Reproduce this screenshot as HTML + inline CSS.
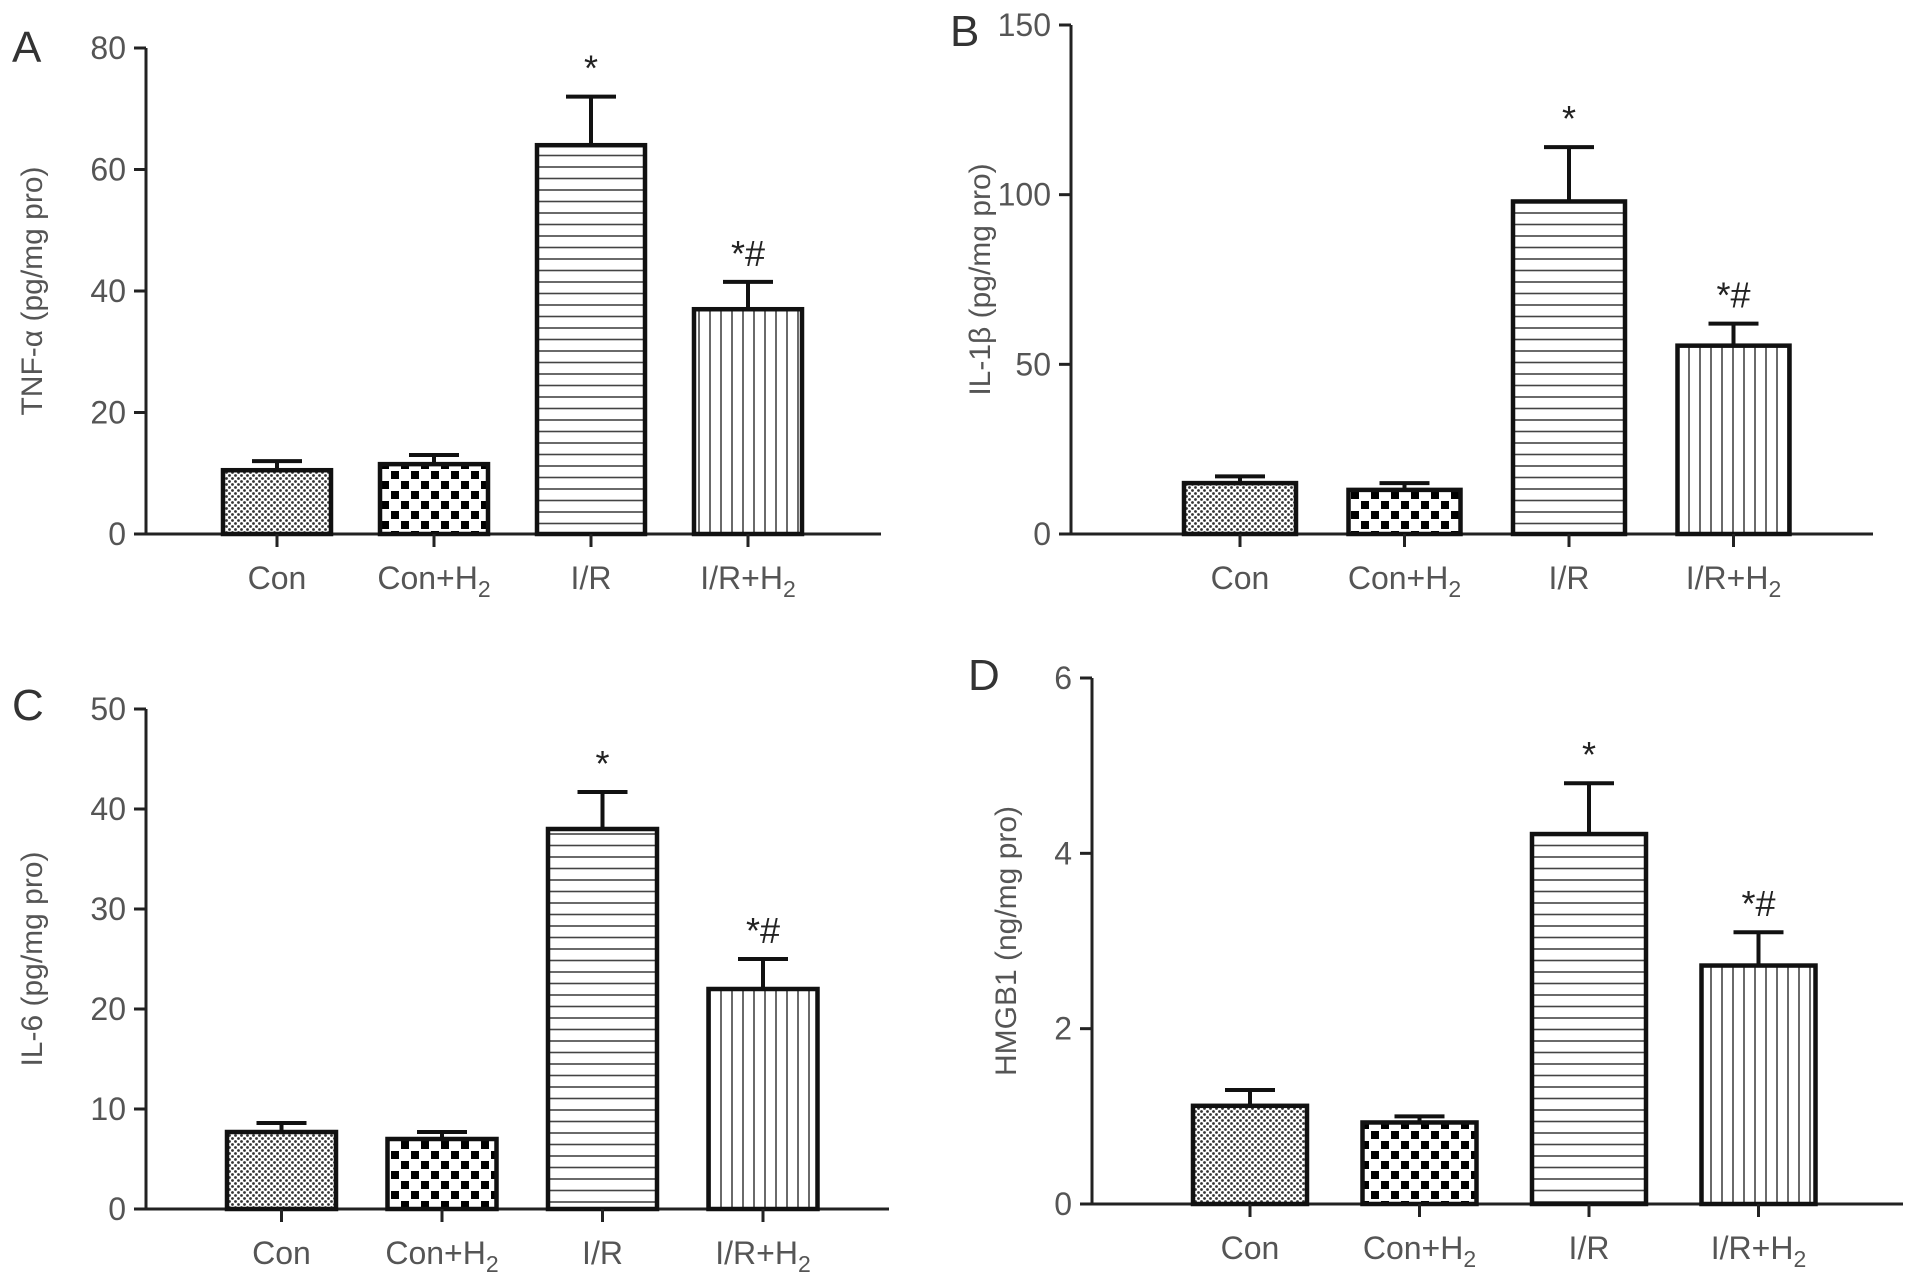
<!DOCTYPE html>
<html><head><meta charset="utf-8"><style>
html,body{margin:0;padding:0;background:#fff;}
svg{display:block;font-family:"Liberation Sans",sans-serif;}
</style></head><body>
<svg id="chart" width="1913" height="1284" viewBox="0 0 1913 1284">
<defs>
<pattern id="pFine" width="6" height="6" patternUnits="userSpaceOnUse">
<rect width="6" height="6" fill="#fff"/><circle cx="1.5" cy="1.5" r="1.4" fill="#333"/><circle cx="4.5" cy="4.5" r="1.4" fill="#333"/>
</pattern>
<pattern id="pCheck" width="20" height="20" patternUnits="userSpaceOnUse">
<rect width="20" height="20" fill="#fff"/><rect x="1" y="1" width="8" height="8" fill="#000"/><rect x="11" y="11" width="8" height="8" fill="#000"/>
</pattern>
<pattern id="pHor" width="10" height="11.5" patternUnits="userSpaceOnUse">
<rect width="10" height="11.5" fill="#fff"/><line x1="0" y1="6" x2="10" y2="6" stroke="#444" stroke-width="1.6"/>
</pattern>
<pattern id="pVer" width="11" height="10" patternUnits="userSpaceOnUse">
<rect width="11" height="10" fill="#fff"/><line x1="6" y1="0" x2="6" y2="10" stroke="#444" stroke-width="1.6"/>
</pattern>
</defs>
</svg>
<script>
const categories = ["Con", "Con+H2", "I/R", "I/R+H2"];
const valuesA = [10.5, 11.5, 64, 37];
const errorsA = [12, 13, 72, 41.5];
const ticksA = [0, 20, 40, 60, 80];
const valuesB = [15, 13, 98, 55.5];
const errorsB = [17, 15, 114, 62];
const ticksB = [0, 50, 100, 150];
const valuesC = [7.7, 7, 38, 22];
const errorsC = [8.6, 7.7, 41.7, 25];
const ticksC = [0, 10, 20, 30, 40, 50];
const valuesD = [1.12, 0.93, 4.22, 2.72];
const errorsD = [1.3, 1.0, 4.8, 3.1];
const ticksD = [0, 2, 4, 6];
const marks = ["", "", "*", "*#"];

const NS = "http://www.w3.org/2000/svg";
const svg = document.getElementById("chart");
const fills = ["url(#pFine)", "url(#pCheck)", "url(#pHor)", "url(#pVer)"];
function mk(tag, attrs, parent, text) {
  const e = document.createElementNS(NS, tag);
  for (const k in attrs) e.setAttribute(k, attrs[k]);
  if (text !== undefined) e.textContent = text;
  (parent || svg).appendChild(e);
  return e;
}
function panel(cfg) {
  const g = mk("g", {});
  
  
  const max = cfg.ticks[cfg.ticks.length - 1];
  const y = v => cfg.y0 - (v / max) * (cfg.y0 - cfg.yTop);
  const lt = mk("text", {x: cfg.lx, y: cfg.ly, "font-size": 44, fill: "#333"}, g, cfg.letter);
  
  
  const ax = mk("line", {x1: cfg.ax, y1: cfg.yTop, x2: cfg.ax, y2: cfg.y0 + 1.5, stroke: "#222", "stroke-width": 3}, g);
  
  
  const xa = mk("line", {x1: cfg.ax - 12, y1: cfg.y0, x2: cfg.axEnd, y2: cfg.y0, stroke: "#222", "stroke-width": 3}, g);
  
  
  cfg.ticks.forEach(t => {
    const yy = y(t);
    const tl = mk("line", {x1: cfg.ax - 12, y1: yy, x2: cfg.ax, y2: yy, stroke: "#222", "stroke-width": 3}, g);
    
    
    const tx = mk("text", {x: cfg.ax - 20, y: yy + 11, "font-size": 32, fill: "#555", "text-anchor": "end"}, g, String(t));
    
    
  });
  const tt = mk("text", {x: 0, y: 0, "font-size": 30, fill: "#555", "text-anchor": "middle",
    transform: "translate(" + cfg.tx + "," + ((cfg.y0 + cfg.yTop) / 2) + ") rotate(-90)"}, g, cfg.title);
  
  
  categories.forEach((c, i) => {
    const x0 = cfg.bx0 + i * cfg.step, w = cfg.bw, cx = x0 + w / 2;
    const top = y(cfg.vals[i]), et = y(cfg.errs[i]);
    const eb = mk("line", {x1: cx, y1: et, x2: cx, y2: top, stroke: "#111", "stroke-width": 4}, g);
    
    
    const ec = mk("line", {x1: cx - 25, y1: et, x2: cx + 25, y2: et, stroke: "#111", "stroke-width": 4}, g);
    
    
    const r = mk("rect", {x: x0, y: top, width: w, height: cfg.y0 - top, fill: fills[i], stroke: "#111", "stroke-width": 4.5}, g);
    
    
    const xt = mk("line", {x1: cx, y1: cfg.y0, x2: cx, y2: cfg.y0 + 13, stroke: "#222", "stroke-width": 3}, g);
    
    
    const lab = mk("text", {x: cx, y: cfg.y0 + 55, "font-size": 32, fill: "#555", "text-anchor": "middle"}, g);
    
    
    if (c.endsWith("H2")) {
      lab.textContent = c.slice(0, -1);
      mk("tspan", {"font-size": 23, dy: 8}, lab, "2");
    } else lab.textContent = c;
    if (marks[i]) {
      const m = mk("text", {x: cx, y: et - 16, "font-size": 36, fill: "#222", "text-anchor": "middle"}, g, marks[i]);
      
      
    }
  });
}
panel({letter: "A", lx: 12, ly: 62, ax: 146, axEnd: 881, y0: 534, yTop: 48, ticks: ticksA, vals: valuesA, errs: errorsA,
  bx0: 223, step: 157, bw: 108, tx: 42, title: "TNF-α (pg/mg pro)"});
panel({letter: "B", lx: 950, ly: 46, ax: 1071, axEnd: 1873, y0: 534, yTop: 25, ticks: ticksB, vals: valuesB, errs: errorsB,
  bx0: 1184, step: 164.5, bw: 112, tx: 990, title: "IL-1β (pg/mg pro)"});
panel({letter: "C", lx: 12, ly: 720, ax: 146, axEnd: 889, y0: 1209, yTop: 709, ticks: ticksC, vals: valuesC, errs: errorsC,
  bx0: 227, step: 160.5, bw: 109, tx: 42, title: "IL-6 (pg/mg pro)"});
panel({letter: "D", lx: 968, ly: 690, ax: 1092, axEnd: 1903, y0: 1204, yTop: 678, ticks: ticksD, vals: valuesD, errs: errorsD,
  bx0: 1193, step: 169.5, bw: 114, tx: 1016, title: "HMGB1 (ng/mg pro)"});
</script>
</body></html>
